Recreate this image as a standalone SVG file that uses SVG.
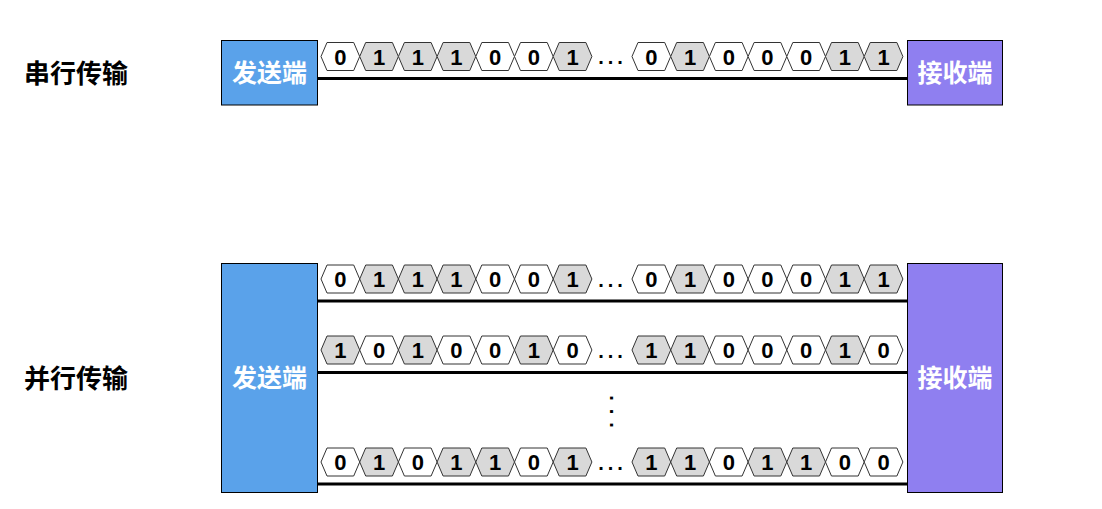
<svg xmlns="http://www.w3.org/2000/svg" xmlns:xlink="http://www.w3.org/1999/xlink" width="1102" height="509" viewBox="0 0 1102 509">
<style>
.bg{fill:#ffffff}
.box{stroke:#000;stroke-width:1}
.snd{fill:#5aa2ea}
.rcv{fill:#8f7ff0}
.boxt{font-family:"Liberation Sans","Noto Sans CJK SC",sans-serif;font-weight:bold;font-size:25px;fill:#ffffff;text-anchor:middle}
.lbl{font-family:"Liberation Sans","Noto Sans CJK SC",sans-serif;font-weight:bold;font-size:26px;fill:#000}
.h0{fill:#ffffff;stroke:#333;stroke-width:1}
.h1{fill:#d9d9d9;stroke:#333;stroke-width:1}
.d{font-family:"Liberation Sans",Arial,sans-serif;font-weight:bold;font-size:22px;fill:#000;text-anchor:middle}
.dots{font-family:"Liberation Sans",Arial,sans-serif;font-weight:bold;font-size:20px;fill:#000}
.wire{stroke:#000;stroke-width:3;fill:none}
</style>
<defs>
<path id="hex" d="M-19.35,0 L-13.35,-14 L13.35,-14 L19.35,0 L13.35,14 L-13.35,14 Z"/>
</defs>
<rect class="bg" x="0" y="0" width="1102" height="509"/>

<g id="label-serial"><text class="lbl" x="24" y="83">串行传输</text></g>
<g id="label-parallel"><text class="lbl" x="24" y="388">并行传输</text></g>

<g id="connectors">
<line class="wire" x1="317" y1="78.5" x2="908" y2="78.5"/>
<line class="wire" x1="317" y1="301" x2="908" y2="301"/>
<line class="wire" x1="317" y1="372.5" x2="908" y2="372.5"/>
<line class="wire" x1="317" y1="484" x2="908" y2="484"/>
</g>

<g id="sender-serial"><rect class="box snd" x="221.5" y="40.5" width="96" height="64.5"/><text class="boxt" x="269.5" y="82">发送端</text></g>
<g id="receiver-serial"><rect class="box rcv" x="907.5" y="40.5" width="95" height="64.5"/><text class="boxt" x="955" y="82">接收端</text></g>
<g id="sender-parallel"><rect class="box snd" x="221.5" y="263.5" width="96" height="229"/><text class="boxt" x="269.5" y="387">发送端</text></g>
<g id="receiver-parallel"><rect class="box rcv" x="907.5" y="263.5" width="95" height="229"/><text class="boxt" x="955" y="387">接收端</text></g>

<g id="data-serial" transform="translate(0,56.5)">
<use href="#hex" class="h0" x="340.35"/><text class="d" x="340.35" y="8">0</text>
<use href="#hex" class="h1" x="379.05"/><text class="d" x="379.05" y="8">1</text>
<use href="#hex" class="h1" x="417.75"/><text class="d" x="417.75" y="8">1</text>
<use href="#hex" class="h1" x="456.45"/><text class="d" x="456.45" y="8">1</text>
<use href="#hex" class="h0" x="495.15"/><text class="d" x="495.15" y="8">0</text>
<use href="#hex" class="h0" x="533.85"/><text class="d" x="533.85" y="8">0</text>
<use href="#hex" class="h1" x="572.55"/><text class="d" x="572.55" y="8">1</text>
<text class="dots" x="598.2" y="7.5" letter-spacing="4">...</text>
<use href="#hex" class="h0" x="651.35"/><text class="d" x="651.35" y="8">0</text>
<use href="#hex" class="h1" x="690.05"/><text class="d" x="690.05" y="8">1</text>
<use href="#hex" class="h0" x="728.75"/><text class="d" x="728.75" y="8">0</text>
<use href="#hex" class="h0" x="767.45"/><text class="d" x="767.45" y="8">0</text>
<use href="#hex" class="h0" x="806.15"/><text class="d" x="806.15" y="8">0</text>
<use href="#hex" class="h1" x="844.85"/><text class="d" x="844.85" y="8">1</text>
<use href="#hex" class="h1" x="883.55"/><text class="d" x="883.55" y="8">1</text>
</g>

<g id="data-parallel-1" transform="translate(0,279)">
<use href="#hex" class="h0" x="340.35"/><text class="d" x="340.35" y="8">0</text>
<use href="#hex" class="h1" x="379.05"/><text class="d" x="379.05" y="8">1</text>
<use href="#hex" class="h1" x="417.75"/><text class="d" x="417.75" y="8">1</text>
<use href="#hex" class="h1" x="456.45"/><text class="d" x="456.45" y="8">1</text>
<use href="#hex" class="h0" x="495.15"/><text class="d" x="495.15" y="8">0</text>
<use href="#hex" class="h0" x="533.85"/><text class="d" x="533.85" y="8">0</text>
<use href="#hex" class="h1" x="572.55"/><text class="d" x="572.55" y="8">1</text>
<text class="dots" x="598.2" y="7.5" letter-spacing="4">...</text>
<use href="#hex" class="h0" x="651.35"/><text class="d" x="651.35" y="8">0</text>
<use href="#hex" class="h1" x="690.05"/><text class="d" x="690.05" y="8">1</text>
<use href="#hex" class="h0" x="728.75"/><text class="d" x="728.75" y="8">0</text>
<use href="#hex" class="h0" x="767.45"/><text class="d" x="767.45" y="8">0</text>
<use href="#hex" class="h0" x="806.15"/><text class="d" x="806.15" y="8">0</text>
<use href="#hex" class="h1" x="844.85"/><text class="d" x="844.85" y="8">1</text>
<use href="#hex" class="h1" x="883.55"/><text class="d" x="883.55" y="8">1</text>
</g>

<g id="data-parallel-2" transform="translate(0,350)">
<use href="#hex" class="h1" x="340.35"/><text class="d" x="340.35" y="8">1</text>
<use href="#hex" class="h0" x="379.05"/><text class="d" x="379.05" y="8">0</text>
<use href="#hex" class="h1" x="417.75"/><text class="d" x="417.75" y="8">1</text>
<use href="#hex" class="h0" x="456.45"/><text class="d" x="456.45" y="8">0</text>
<use href="#hex" class="h0" x="495.15"/><text class="d" x="495.15" y="8">0</text>
<use href="#hex" class="h1" x="533.85"/><text class="d" x="533.85" y="8">1</text>
<use href="#hex" class="h0" x="572.55"/><text class="d" x="572.55" y="8">0</text>
<text class="dots" x="598.2" y="7.5" letter-spacing="4">...</text>
<use href="#hex" class="h1" x="651.35"/><text class="d" x="651.35" y="8">1</text>
<use href="#hex" class="h1" x="690.05"/><text class="d" x="690.05" y="8">1</text>
<use href="#hex" class="h0" x="728.75"/><text class="d" x="728.75" y="8">0</text>
<use href="#hex" class="h0" x="767.45"/><text class="d" x="767.45" y="8">0</text>
<use href="#hex" class="h0" x="806.15"/><text class="d" x="806.15" y="8">0</text>
<use href="#hex" class="h1" x="844.85"/><text class="d" x="844.85" y="8">1</text>
<use href="#hex" class="h0" x="883.55"/><text class="d" x="883.55" y="8">0</text>
</g>

<g id="vertical-dots"><text class="dots" transform="translate(609.6,395.2) rotate(90)" letter-spacing="8">...</text></g>

<g id="data-parallel-n" transform="translate(0,462)">
<use href="#hex" class="h0" x="340.35"/><text class="d" x="340.35" y="8">0</text>
<use href="#hex" class="h1" x="379.05"/><text class="d" x="379.05" y="8">1</text>
<use href="#hex" class="h0" x="417.75"/><text class="d" x="417.75" y="8">0</text>
<use href="#hex" class="h1" x="456.45"/><text class="d" x="456.45" y="8">1</text>
<use href="#hex" class="h1" x="495.15"/><text class="d" x="495.15" y="8">1</text>
<use href="#hex" class="h0" x="533.85"/><text class="d" x="533.85" y="8">0</text>
<use href="#hex" class="h1" x="572.55"/><text class="d" x="572.55" y="8">1</text>
<text class="dots" x="598.2" y="7.5" letter-spacing="4">...</text>
<use href="#hex" class="h1" x="651.35"/><text class="d" x="651.35" y="8">1</text>
<use href="#hex" class="h1" x="690.05"/><text class="d" x="690.05" y="8">1</text>
<use href="#hex" class="h0" x="728.75"/><text class="d" x="728.75" y="8">0</text>
<use href="#hex" class="h1" x="767.45"/><text class="d" x="767.45" y="8">1</text>
<use href="#hex" class="h1" x="806.15"/><text class="d" x="806.15" y="8">1</text>
<use href="#hex" class="h0" x="844.85"/><text class="d" x="844.85" y="8">0</text>
<use href="#hex" class="h0" x="883.55"/><text class="d" x="883.55" y="8">0</text>
</g>
</svg>
